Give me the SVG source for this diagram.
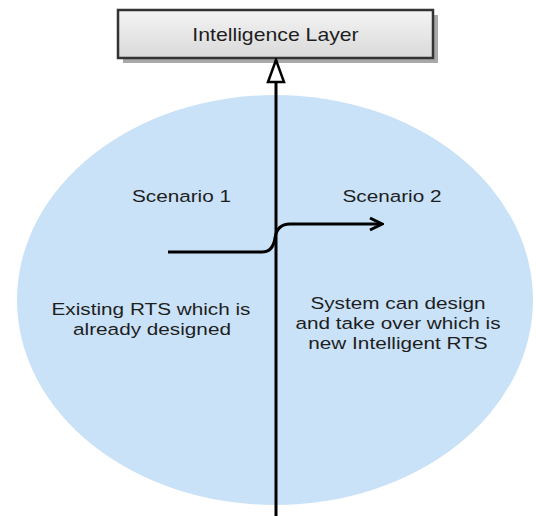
<svg xmlns="http://www.w3.org/2000/svg" width="536" height="516" viewBox="0 0 536 516">
  <defs>
    <linearGradient id="boxGrad" x1="0" y1="0" x2="0" y2="1">
      <stop offset="0" stop-color="#f4f4f4"/>
      <stop offset="1" stop-color="#d9d9d9"/>
    </linearGradient>
    <marker id="openTri" markerWidth="26" markerHeight="20" refX="24" refY="10" orient="auto" markerUnits="userSpaceOnUse">
      <path d="M2,2 L24,10 L2,18 Z" fill="#ffffff" stroke="#000" stroke-width="2.5" stroke-linejoin="miter"/>
    </marker>
    <marker id="chevron" markerWidth="16" markerHeight="16" refX="14" refY="8" orient="auto" markerUnits="userSpaceOnUse">
      <path d="M2,2 L14,8 L2,14" fill="none" stroke="#000" stroke-width="3" stroke-linejoin="miter"/>
    </marker>
  </defs>
  <style>
    .lbl { font-family: "Liberation Sans", Arial, sans-serif; font-size: 17px; fill: #1e1e1e; text-anchor: middle; }
    .title { font-size: 18px; }
    .conn { fill: none; stroke: #000; stroke-width: 3; }
  </style>
  <rect width="536" height="516" fill="#ffffff"/>

  <g id="scenario-area">
    <ellipse cx="275" cy="300" rx="258" ry="205" fill="#c9e2f8"/>
  </g>

  <g id="intelligence-layer">
    <rect x="123" y="15" width="315" height="48" fill="#a8a8a8"/>
    <rect x="118" y="10" width="315" height="48" fill="url(#boxGrad)" stroke="#333" stroke-width="2.5"/>
    <text class="lbl title" transform="translate(275.5,41) scale(1.18,1)">Intelligence Layer</text>
  </g>

  <g id="labels">
    <text class="lbl" transform="translate(181.5,202) scale(1.22,1)">Scenario 1</text>
    <text class="lbl" transform="translate(392,202) scale(1.22,1)">Scenario 2</text>
    <text class="lbl" transform="translate(151,315) scale(1.22,1)">Existing RTS which is</text>
    <text class="lbl" transform="translate(152,335) scale(1.22,1)">already designed</text>
    <text class="lbl" transform="translate(398,309) scale(1.22,1)">System can design</text>
    <text class="lbl" transform="translate(398,329) scale(1.22,1)">and take over which is</text>
    <text class="lbl" transform="translate(398,349) scale(1.22,1)">new Intelligent RTS</text>
  </g>

  <g id="connectors">
    <path class="conn" d="M276,516 L276,60" marker-end="url(#openTri)"/>
    <path class="conn" d="M168,252 L262,252 Q273,252 275,238 Q277,224 290,224 L382,224" marker-end="url(#chevron)"/>
  </g>
</svg>
